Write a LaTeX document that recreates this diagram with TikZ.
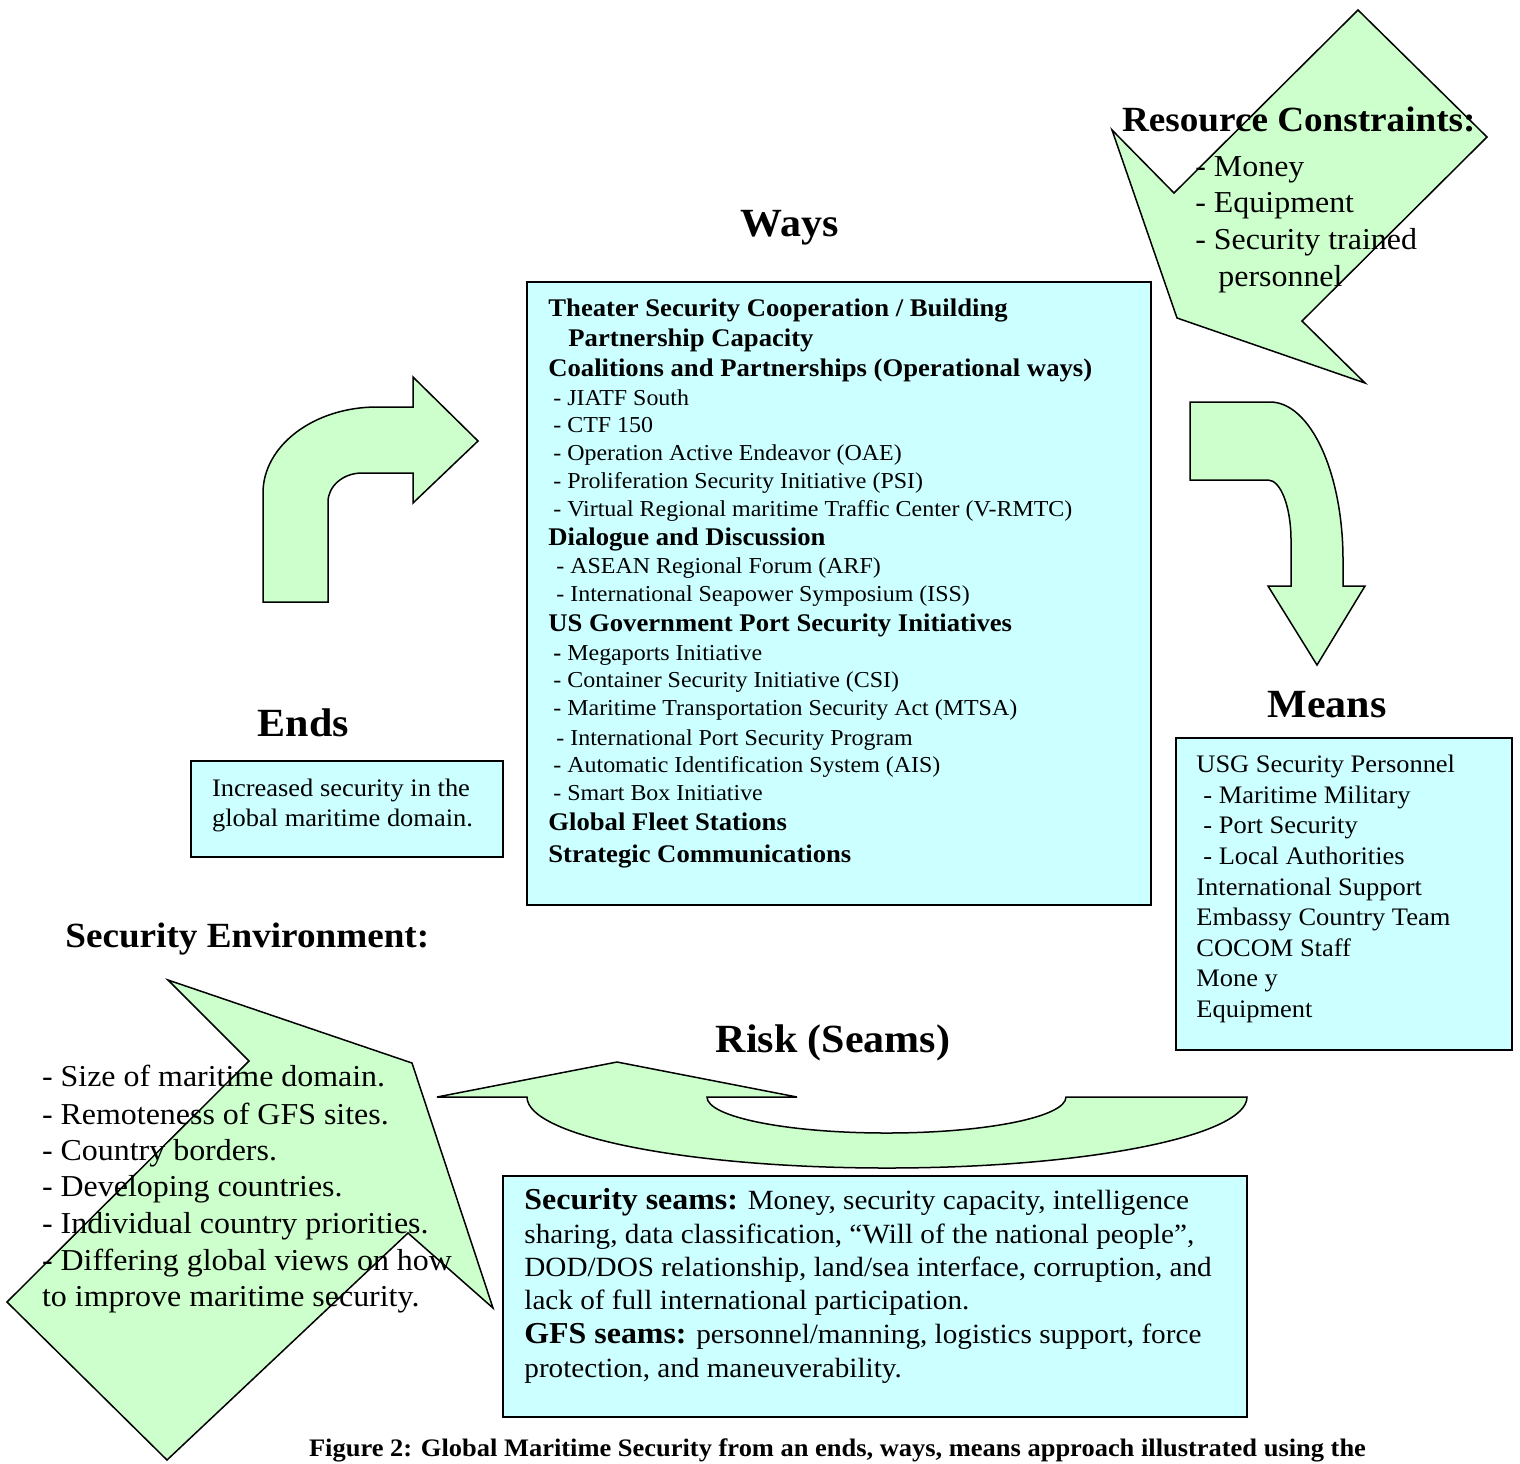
\documentclass[tikz,border=0pt]{standalone}
\usepackage{fontspec}
\setmainfont{Liberation Serif}[FakeStretch=1.05]
\usetikzlibrary{fit}
\definecolor{arrowgreen}{HTML}{CCFFCC}
\definecolor{boxcyan}{HTML}{CCFFFF}
\begin{document}
\begin{tikzpicture}[x=0.5pt,y=-0.5pt,
  shapearrow/.style={fill=arrowgreen,draw=black,line width=0.75pt,line join=miter},
  box/.style={fill=boxcyan,draw=black,line width=0.8pt,inner sep=0pt},
  txt/.style={anchor=base west,inner sep=0pt},
  title/.style={font=\fontsize{20}{23}\selectfont\bfseries,anchor=base,inner sep=0pt},
  sidehead/.style={txt,font=\fontsize{17.7}{20}\selectfont\bfseries},
  wayshead/.style={txt,font=\fontsize{12.7}{15}\selectfont\bfseries},
  waysitem/.style={txt,font=\fontsize{11.4}{13}\selectfont},
  meansline/.style={txt,font=\fontsize{12.6}{15}\selectfont},
  seamsline/.style={txt,font=\fontsize{13.9}{16}\selectfont},
  bigline/.style={txt,font=\fontsize{15.2}{18}\selectfont},
  captionstyle/.style={font=\fontsize{12.6}{15}\selectfont\bfseries,anchor=base,inner sep=0pt}
]
\useasboundingbox (0,0) rectangle (1520,1463);

% ---------- arrows ----------
% Resource constraints arrow
\draw[shapearrow] (1358,10) -- (1487,137) -- (1302,321) -- (1365,383)
  -- (1177,318) -- (1112,130) -- (1174,193) -- cycle;
% bent arrow up-right (Ends -> Ways)
\draw[shapearrow] (263,602) -- (263,493)
  .. controls (263,445.5) and (314,407) .. (377,407) -- (413,407) -- (413,377)
  -- (478,441) -- (413,503) -- (413,473) -- (362,473)
  .. controls (343.2,473) and (328,486) .. (328,502) -- (328,602) -- cycle;
% bent arrow down (Ways -> Means)
\draw[shapearrow] (1190,402) -- (1270,402)
  .. controls (1310.3,402) and (1343,472.7) .. (1343,560) -- (1343,586)
  -- (1365,586) -- (1317,665) -- (1268,586) -- (1291,586) -- (1291,540)
  .. controls (1291,506.9) and (1280.7,480) .. (1268,480) -- (1190,480) -- cycle;
% security environment arrow
\draw[shapearrow] (168,980) -- (412,1063) -- (493,1308) -- (408,1233)
  -- (167,1460) -- (7,1302) -- (249,1061) -- cycle;
% risk arrow (U-turn)
\draw[shapearrow] (437,1097) -- (617,1062) -- (797,1097) -- (707,1097)
  .. controls (707,1117) and (787.4,1133) .. (886.5,1133)
  .. controls (985.6,1133) and (1066,1117) .. (1066,1097) -- (1247,1097)
  .. controls (1247,1136) and (1086,1168) .. (887,1168)
  .. controls (688,1168) and (527,1136) .. (527,1097) -- cycle;

% ---------- boxes ----------
\node[box,fit={(527,282) (1151,905)}] (ways) {};
\node[box,fit={(191,761) (503,857)}] (ends) {};
\node[box,fit={(1176,738) (1512,1050)}] (means) {};
\node[box,fit={(503,1176) (1247,1417)}] (seams) {};

% ---------- titles ----------
\node[title] (waystitle) at (789.5,236) {Ways};
\node[title] (meanstitle) at (1327,717) {Means};
\node[title] (endstitle) at (303.5,736.7) {Ends};
\node[title] (risktitle) at (833,1052) {Risk (Seams)};
\node[sidehead] (envtitle) at (65,947) {Security Environment:};
\node[sidehead] (restitle) at (1121.7,131.7) {Resource Constraints:};

% ---------- resource constraints ----------
\node[bigline] (r1) at (1195,176.7) {- Money};
\node[bigline] (r2) at (1195,212.7) {- Equipment};
\node[bigline] (r3) at (1195,249.3) {- Security trained};
\node[bigline] (r4) at (1218,286.7) {personnel};

% ---------- ways box text ----------
\node[wayshead] (w1) at (548,316) {Theater Security Cooperation / Building};
\node[wayshead] (w2) at (568,346.7) {Partnership Capacity};
\node[wayshead] (w3) at (548,376.7) {Coalitions and Partnerships (Operational ways)};
\node[waysitem] (w4) at (553,405) {- JIATF South};
\node[waysitem] (w5) at (553,432.7) {- CTF 150};
\node[waysitem] (w6) at (553,460) {- Operation Active Endeavor (OAE)};
\node[waysitem] (w7) at (553,488) {- Proliferation Security Initiative (PSI)};
\node[waysitem] (w8) at (553,516) {- Virtual Regional maritime Traffic Center (V-RMTC)};
\node[wayshead] (w9) at (548,545) {Dialogue and Discussion};
\node[waysitem] (w10) at (556,573) {- ASEAN Regional Forum (ARF)};
\node[waysitem] (w11) at (556,601.7) {- International Seapower Symposium (ISS)};
\node[wayshead] (w12) at (548,631.7) {US Government Port Security Initiatives};
\node[waysitem] (w13) at (553,660) {\textbf{-} Megaports Initiative};
\node[waysitem] (w14) at (553,687) {- Container Security Initiative (CSI)};
\node[waysitem] (w15) at (553,715) {- Maritime Transportation Security Act (MTSA)};
\node[waysitem] (w16) at (556,745) {- International Port Security Program};
\node[waysitem] (w17) at (553,772.7) {- Automatic Identification System (AIS)};
\node[waysitem] (w18) at (553,800) {- Smart Box Initiative};
\node[wayshead] (w19) at (548,830) {Global Fleet Stations};
\node[wayshead] (w20) at (548,862.7) {Strategic Communications};

% ---------- ends box text ----------
\node[meansline] (e1) at (211.7,796.7) {Increased security in the};
\node[meansline] (e2) at (211.7,826.7) {global maritime domain.};

% ---------- means box text ----------
\node[meansline] (m1) at (1196,772.7) {USG Security Personnel};
\node[meansline] (m2) at (1203,803) {- Maritime Military};
\node[meansline] (m3) at (1203,833) {- Port Security};
\node[meansline] (m4) at (1203,864) {- Local Authorities};
\node[meansline] (m5) at (1196,895) {International Support};
\node[meansline] (m6) at (1196,925) {Embassy Country Team};
\node[meansline] (m7) at (1196,956) {COCOM Staff};
\node[meansline] (m8) at (1196,986.7) {Mone y};
\node[meansline] (m9) at (1196,1017) {Equipment};

% ---------- seams box text ----------
\node[seamsline] (s1) at (524,1209.5) {{\fontsize{15.2}{17}\selectfont\bfseries Security seams:} Money, security capacity, intelligence};
\node[seamsline] (s2) at (524,1243) {sharing, data classification, “Will of the national people”,};
\node[seamsline] (s3) at (524,1276.5) {DOD/DOS relationship, land/sea interface, corruption, and};
\node[seamsline] (s4) at (524,1309.5) {lack of full international participation.};
\node[seamsline] (s5) at (524,1343.5) {{\fontsize{15.2}{17}\selectfont\bfseries GFS seams:} personnel/manning, logistics support, force};
\node[seamsline] (s6) at (524,1377) {protection, and maneuverability.};

% ---------- security environment text ----------
\node[bigline] (v1) at (41.7,1086.7) {- Size of maritime domain.};
\node[bigline] (v2) at (41.7,1124) {- Remoteness of GFS sites.};
\node[bigline] (v3) at (41.7,1160) {- Country borders.};
\node[bigline] (v4) at (41.7,1196.7) {- Developing countries.};
\node[bigline] (v5) at (41.7,1233) {- Individual country priorities.};
\node[bigline] (v6) at (41.7,1270) {- Differing global views on how};
\node[bigline] (v7) at (41.7,1306.7) {to improve maritime security.};

% ---------- caption ----------
\node[captionstyle] (cap) at (837.5,1456.5) {Figure 2: Global Maritime Security from an ends, ways, means approach illustrated using the};
\end{tikzpicture}
\end{document}
